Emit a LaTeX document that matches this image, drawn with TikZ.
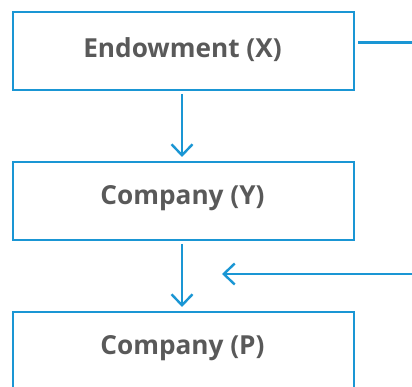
\documentclass[tikz,border=0pt]{standalone}
\usepackage{fontspec}
\setmainfont{Open Sans}
\usetikzlibrary{arrows.meta}
\definecolor{lineblue}{HTML}{1A96D4}
\definecolor{txtgray}{HTML}{595959}
\begin{document}
\begin{tikzpicture}[x=1pt,y=-1pt,
  box/.style={draw=lineblue,line width=2.6pt,minimum width=341pt,minimum height=78pt,inner sep=0pt},
  lbl/.style={font=\fontsize{26.2}{30}\selectfont\bfseries,text=txtgray,inner sep=0pt},
  conn/.style={draw=lineblue,line width=2.4pt},
  arr/.style={conn,-{Straight Barb[length=11pt,width=21pt,line width=2.4pt]}}]
\useasboundingbox (0,0) rectangle (412,387);
\node[box] (X) at (183.5,51) {};
\node[lbl] (tX) at (182.5,50) {Endowment (X)};
\node[box] (Y) at (183.5,201) {};
\node[lbl] (tY) at (182.5,198) {Company (Y)};
\node[box] (P) at (183.5,351) {};
\node[lbl] (tP) at (182.5,348) {Company (P)};
\coordinate (xr) at (412,42.5);
\coordinate (xl) at (358,42.5);
\coordinate (hr) at (412,274);
\coordinate (hl) at (222,274);
\coordinate (a1s) at (182,94);
\coordinate (a1e) at (182,157);
\coordinate (a2s) at (182,244);
\coordinate (a2e) at (182,307);
\draw[conn] (xl) -- (xr);
\draw[arr] (a1s) -- (a1e);
\draw[arr] (a2s) -- (a2e);
\draw[arr] (hr) -- (hl);
\end{tikzpicture}
\end{document}
